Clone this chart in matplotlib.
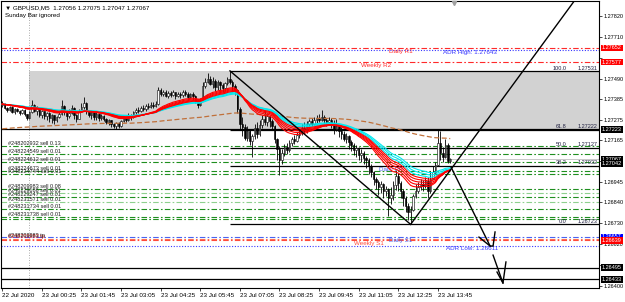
import numpy as np
import matplotlib
matplotlib.use("Agg")
import matplotlib.pyplot as plt
import matplotlib.transforms as mtransforms
from matplotlib.patches import Rectangle

plt.rcParams["font.family"] = ["Liberation Sans", "DejaVu Sans"]

# --- GBPUSD M5 candles, prices in points above BASE ---
BASE = 1.26
first_bar = -11          # index of first visible bar (0 = 23 Jul 00:00)
first_open = 1350
closes = [1356, 1335, 1325, 1341, 1314, 1330, 1319, 1309, 1325, 1304,
          1283, 1314, 1350, 1320, 1335, 1300, 1318, 1295, 1310, 1282,
          1298, 1270, 1290, 1305, 1345, 1315, 1292, 1310, 1335, 1300,
          1280, 1320, 1340, 1360, 1318, 1300, 1312, 1290, 1305, 1285,
          1296, 1280, 1262, 1270, 1250, 1242, 1255, 1240, 1268, 1285,
          1272, 1298, 1290, 1315, 1325, 1318, 1338, 1330, 1345, 1340,
          1352, 1348, 1355, 1430, 1410, 1420, 1400, 1415, 1405, 1418,
          1398, 1412, 1402, 1420, 1410, 1395, 1408, 1400, 1372, 1350,
          1380, 1450, 1475, 1490, 1462, 1480, 1445, 1470, 1455, 1440,
          1465, 1490, 1470, 1450, 1430, 1330, 1250, 1235, 1180, 1215,
          1160, 1190, 1230, 1200, 1245, 1280, 1260, 1295, 1265, 1240,
          1170, 1120, 1060, 1100, 1130, 1115, 1150, 1170, 1160, 1195,
          1205, 1230, 1215, 1250, 1265, 1250, 1270, 1285, 1275, 1290,
          1272, 1260, 1270, 1255, 1225, 1240, 1215, 1200, 1175, 1190,
          1155, 1140, 1115, 1125, 1090, 1100, 1070, 1060, 1030, 1000,
          960, 945, 920, 935, 900, 910, 860, 880, 930, 980,
          940, 900, 860, 820, 790, 800, 870, 900, 920, 935,
          925, 950, 900, 960, 1000, 1035, 1150, 1100, 1080, 1140,
          1056, 1067]
highs = [1372, 1360, 1340, 1348, 1345, 1338, 1336, 1325, 1332, 1328,
         1306, 1320, 1378, 1356, 1345, 1340, 1325, 1322, 1316, 1312,
         1305, 1300, 1296, 1320, 1380, 1352, 1320, 1330, 1350, 1340,
         1305, 1328, 1362, 1395, 1365, 1325, 1320, 1318, 1312, 1310,
         1305, 1300, 1285, 1280, 1275, 1258, 1262, 1262, 1275, 1295,
         1300, 1310, 1305, 1320, 1338, 1340, 1345, 1350, 1356, 1362,
         1366, 1368, 1372, 1445, 1440, 1432, 1428, 1425, 1425, 1430,
         1422, 1420, 1418, 1432, 1430, 1418, 1415, 1420, 1405, 1378,
         1390, 1470, 1495, 1520, 1505, 1498, 1490, 1482, 1478, 1468,
         1472, 1500, 1531, 1482, 1462, 1435, 1340, 1290, 1250, 1240,
         1225, 1200, 1250, 1260, 1270, 1300, 1325, 1310, 1300, 1280,
         1245, 1180, 1135, 1120, 1145, 1150, 1165, 1185, 1195, 1210,
         1225, 1250, 1260, 1268, 1280, 1285, 1290, 1300, 1305, 1325,
         1300, 1285, 1288, 1282, 1270, 1278, 1250, 1236, 1215, 1205,
         1195, 1165, 1150, 1140, 1130, 1120, 1110, 1085, 1070, 1040,
         1005, 975, 955, 950, 940, 925, 915, 920, 950, 1009,
         995, 950, 910, 870, 835, 820, 885, 935, 945, 960,
         955, 970, 975, 1005, 1030, 1050, 1223, 1215, 1130, 1170,
         1150, 1075]
lows = [1340, 1328, 1315, 1320, 1308, 1305, 1312, 1300, 1304, 1296,
        1272, 1280, 1310, 1312, 1298, 1288, 1283, 1280, 1275, 1262,
        1255, 1250, 1262, 1285, 1300, 1300, 1270, 1285, 1305, 1278,
        1262, 1276, 1315, 1332, 1305, 1290, 1280, 1275, 1270, 1265,
        1275, 1268, 1250, 1245, 1238, 1232, 1225, 1228, 1235, 1260,
        1262, 1265, 1275, 1282, 1305, 1310, 1312, 1320, 1322, 1330,
        1335, 1338, 1340, 1352, 1400, 1398, 1392, 1390, 1395, 1398,
        1385, 1392, 1388, 1395, 1400, 1385, 1390, 1380, 1360, 1336,
        1345, 1378, 1440, 1465, 1455, 1440, 1425, 1430, 1420, 1418,
        1425, 1455, 1460, 1420, 1405, 1310, 1220, 1190, 1165, 1160,
        1140, 1078, 1175, 1180, 1190, 1230, 1245, 1240, 1235, 1220,
        1150, 1060, 983, 1040, 1085, 1095, 1105, 1138, 1148, 1155,
        1180, 1195, 1200, 1205, 1235, 1240, 1245, 1258, 1262, 1268,
        1255, 1240, 1245, 1230, 1200, 1215, 1185, 1170, 1160, 1150,
        1120, 1110, 1090, 1080, 1060, 1050, 1040, 1020, 990, 975,
        930, 910, 880, 890, 860, 870, 765, 830, 850, 905,
        900, 860, 820, 790, 745, 723, 795, 860, 890, 905,
        900, 915, 862, 890, 960, 990, 1030, 1060, 1050, 1070,
        1045, 1047]

# moving averages
red_periods = [20, 23, 26, 29, 32]
cyan_periods = [35, 39, 43]
slow_period = 200
slow_seed = 1.27225

# scales (labels hidden behind the coloured flags are left blank)
price_ticks = [1.27820, 1.27710, 1.27600, 1.27490, 1.27385, 1.27275, 1.27165,
               1.27055, 1.26945, 1.26840, 1.26730, 1.26620, 1.26510, 1.26400]
hidden_ticks = [1.27600, 1.27055, 1.26510]
time_bars = [-11, 5, 21, 37, 53, 69, 85, 101, 117, 133, 149, 165]
time_labels = ["22 Jul 2020", "23 Jul 00:25", "23 Jul 01:45", "23 Jul 03:05",
               "23 Jul 04:25", "23 Jul 05:45", "23 Jul 07:05", "23 Jul 08:25",
               "23 Jul 09:45", "23 Jul 11:05", "23 Jul 12:25", "23 Jul 13:45"]

# coloured price flags on the scale
flag_prices = [1.27652, 1.27577, 1.27223, 1.27067, 1.27042, 1.26657, 1.26639, 1.26495, 1.26433]
flag_colors = ["#ff0000", "#ff0000", "black", "black", "black", "#0000ff", "#ff0000", "black", "black"]

# plain horizontal lines
black_lines = [1.27223, 1.26495, 1.26433]
bid_price = 1.27067

# pivots / ADR
level_names = ["ADR High: 1.27643", "Daily R1", "Weekly R2", "Daily S1", "Weekly S1", "ADR Low: 1.26611"]
level_prices = [1.27643, 1.27652, 1.27577, 1.26657, 1.26639, 1.26611]
level_colors = ["#3838ff", "#ff2a2a", "#ff2a2a", "#4a64f0", "#ff4a3a", "#3838ff"]
level_styles = [(0, (1, 1.5)), (0, (5, 2, 1.5, 2)), (0, (5, 2, 1.5, 2)),
                (0, (5, 2, 1.5, 2)), (0, (5, 2, 1.5, 2)), (0, (1, 1.5))]
level_text_bars = [178, 150, 140, 150, 137, 179]

# open orders
order_prices = [1.27136, 1.27093, 1.27051, 1.27004, 1.26988, 1.26909,
                1.26888, 1.26867, 1.26841, 1.26804, 1.26762, 1.26751]
order_labels = ["#248202932 sell 0.13", "#248224549 sell 0.01", "#248224612 sell 0.01",
                "#248224673 sell 0.01", "#248224744 sell 0.01", "#248209983 sell 0.08",
                "#248229186 sell 0.01", "#248229247 sell 0.01", "#248231571 sell 0.01",
                "#248231734 sell 0.01", "#248231738 sell 0.01", ""]
order_colors = ["#1f8f1f", "#1f8f1f", "#1f8f1f", "#1f8f1f", "#1f8f1f", "#1f8f1f",
                "#8fd08f", "#1f8f1f", "#8fd08f", "#1f8f1f", "#1f8f1f", "#1f8f1f"]
tp_prices = [1.26648]
tp_labels = ["#248209983 tp"]

# fibonacci + zone
fib_start_bar = 81
fib_levels = ["100.0", "61.8", "50.0", "38.2", "0.0"]
fib_prices = [1.27531, 1.27222, 1.27127, 1.27032, 1.26723]
zone_start_bar = 0
zone_top = 1.27531
zone_bottom = 1.27223

# hand drawn trend lines / arrows
trend_bars = [[81, 154], [154, 221], [170.3, 186.1],
              [181.6, 186.1, 187.3, 188.1], [187.3, 191.3], [188.9, 191.3, 192.5]]
trend_prices = [[1.27531, 1.26723], [1.26723, 1.27915], [1.27025, 1.26609],
                [1.26656, 1.26609, 1.26609, 1.26683], [1.26561, 1.26414],
                [1.26472, 1.26414, 1.26525]]


def ema(values, period, seed):
    k = 2.0 / (period + 1)
    out = np.empty(len(values))
    prev = seed
    for i, v in enumerate(values):
        prev = prev + k * (v - prev)
        out[i] = prev
    return out


c = BASE + np.array(closes) / 1e5
h = BASE + np.array(highs) / 1e5
l = BASE + np.array(lows) / 1e5
o = np.concatenate([[BASE + first_open / 1e5], c[:-1]])
x = np.arange(len(c)) + first_bar

XMIN, XMAX = -11.5, 230.1
YMIN, YMAX = 1.26388, 1.27899

fig = plt.figure(figsize=(6.25, 3.02), dpi=100)
ax = fig.add_axes([1 / 625, 14 / 302, 598 / 625, 287 / 302])
ax.set_xlim(XMIN, XMAX)
ax.set_ylim(YMIN, YMAX)
for s in ax.spines.values():
    s.set_color("black")
    s.set_linewidth(0.8)

blend = mtransforms.blended_transform_factory(ax.transAxes, ax.transData)

# zone rectangle
ax.add_patch(Rectangle((zone_start_bar, zone_bottom), XMAX - zone_start_bar,
                       zone_top - zone_bottom, facecolor="#d2d2d2", edgecolor="none", zorder=0.5))

# day separator
ax.axvline(0, color="#909090", ls=(0, (1, 2)), lw=0.6, zorder=1)

# order lines
for p, lab, col in zip(order_prices, order_labels, order_colors):
    ax.axhline(p, color=col, lw=0.8, ls=(0, (5, 2, 1.5, 2)), zorder=1)
    if lab:
        ax.text(0.011, p, lab, transform=blend, fontsize=4, color="#202020",
                va="bottom", ha="left", zorder=6)
for p, lab in zip(tp_prices, tp_labels):
    ax.axhline(p, color="#ff7050", lw=0.8, ls=(0, (5, 2, 1.5, 2)), zorder=1)
    ax.text(0.011, p - 0.00002, lab, transform=blend, fontsize=4, color="#cc0000",
            va="bottom", ha="left", zorder=6)
    ax.text(0.011, p + 0.00002, lab, transform=blend, fontsize=4, color="#202020",
            va="bottom", ha="left", zorder=6)

# pivot / ADR lines
for name, p, col, st, tb in zip(level_names, level_prices, level_colors, level_styles, level_text_bars):
    ax.axhline(p, color=col, lw=0.8, ls=st, zorder=1.2)
    ax.text(tb, p - 0.00004, name, fontsize=4.5, color=col, ha="center", va="top", zorder=1.5)
ax.text(146, 1.27025, "Daily PP", fontsize=4.5, color="#4a64f0", ha="center", va="top", zorder=1.5)

# bid and plain black lines
ax.axhline(bid_price, color="#c8c8c8", lw=0.7, zorder=1)
for p in black_lines:
    ax.axhline(p, color="black", lw=0.9, zorder=2)

# fibonacci
for lev, p in zip(fib_levels, fib_prices):
    ax.hlines(p, fib_start_bar, XMAX, color="black", lw=0.9, zorder=2)
    ax.text(217, p + 0.00002, lev, fontsize=4, color="#202040", ha="right", va="bottom", zorder=6)
    ax.text(0.997, p + 0.00002, f"{p:.5f}", transform=blend, fontsize=4,
            color="#202040", ha="right", va="bottom", zorder=6)

# candles
ax.vlines(x, l, h, color="black", lw=0.6, zorder=4)
up = c >= o
ax.bar(x[up], (c - o)[up], bottom=o[up], width=0.6, color="white",
       edgecolor="black", lw=0.4, zorder=5)
ax.bar(x[~up], (o - c)[~up], bottom=c[~up], width=0.6, color="black",
       edgecolor="black", lw=0.4, zorder=5)

# moving averages
ax.plot(x, ema(c, slow_period, slow_seed), color="#c0703a", lw=0.9,
        ls=(0, (4, 2)), zorder=6)
for per in cyan_periods:
    ax.plot(x, ema(c, per, c[0]), color="#00e8f0", lw=0.8, zorder=6)
for per in red_periods:
    ax.plot(x, ema(c, per, c[0]), color="#ff0000", lw=0.8, zorder=6.5)

# trend lines
for tb, tp in zip(trend_bars, trend_prices):
    ax.plot(tb, tp, color="black", lw=1.0, zorder=7)

# chart shift marker
ax.plot([0.757], [0.994], marker="v", ms=3, color="#a0a0a0",
        transform=ax.transAxes, clip_on=False, zorder=8)

# right price scale
ax.yaxis.tick_right()
ax.set_yticks(price_ticks)
ax.set_yticklabels(["" if p in hidden_ticks else f"{p:.5f}" for p in price_ticks])
ax.tick_params(axis="y", length=2, width=0.5, pad=1, labelsize=4, colors="black")
for p, col in zip(flag_prices, flag_colors):
    ax.text(1.0 + 3 / 598, p, f"{p:.5f}", transform=blend, fontsize=4, color="white",
            ha="left", va="center", zorder=10, clip_on=False,
            bbox=dict(boxstyle="square,pad=0.15", fc=col, ec="none"))

# time scale
ax.set_xticks(time_bars)
ax.set_xticklabels(time_labels)
for lbl in ax.get_xticklabels():
    lbl.set_ha("left")
ax.tick_params(axis="x", length=2, width=0.5, pad=1.5, labelsize=4.5)

# header
fig.text(5 / 625, 1 - 8 / 302, "\u25bc GBPUSD,M5  1.27056 1.27075 1.27047 1.27067",
         fontsize=4.5, color="black", va="center", ha="left")
fig.text(5 / 625, 1 - 16 / 302, "Sunday Bar ignored", fontsize=4.5, color="black",
         va="center", ha="left")

fig.savefig("out.png", dpi=100, facecolor="white")
